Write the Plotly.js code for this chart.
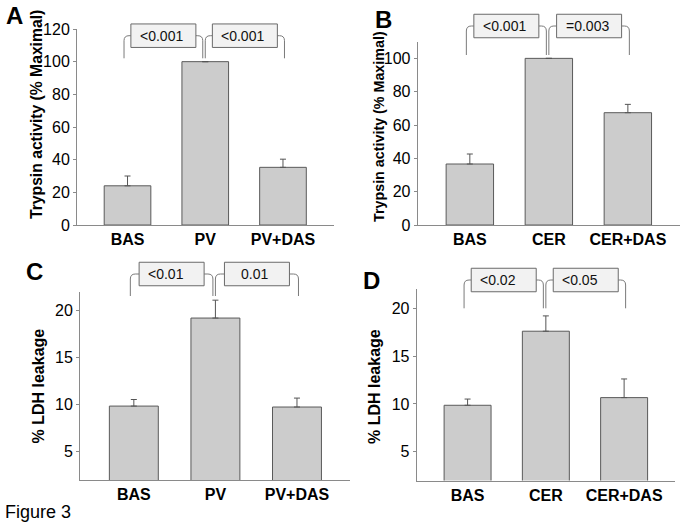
<!DOCTYPE html>
<html>
<head>
<meta charset="utf-8">
<script src="https://cdn.plot.ly/plotly-3.0.1.min.js"></script>
<style>html,body{margin:0;padding:0;background:#fff;}#chart{width:685px;height:528px;}</style>
</head>
<body>
<div id="chart"></div>
<script>
// ---- data ----
var catsPV = ['BAS', 'PV', 'PV+DAS'];
var catsCER = ['BAS', 'CER', 'CER+DAS'];
var trypsinPV = [24, 100, 35.3];
var trypsinPVErr = [6, 0, 5];
var trypsinCER = [36.6, 100, 67.4];
var trypsinCERErr = [6, 0, 5];
var ldhPV = [9.85, 19.2, 9.75];
var ldhPVErr = [0.7, 1.9, 0.95];
var ldhCER = [9.86, 17.6, 10.66];
var ldhCERErr = [0.65, 1.6, 1.95];
var pA = ['<0.001', '<0.001'];
var pB = ['<0.001', '=0.003'];
var pC = ['<0.01', '0.01'];
var pD = ['<0.02', '<0.05'];
var yTitleTrypsin = 'Trypsin activity (% Maximal)';
var yTitleLDH = '% LDH leakage';

// ---- layout helpers (pixel geometry) ----
var W = 685, H = 528;
function PX(p) { return p / W; }
function PY(p) { return 1 - p / H; }

var panels = [
  {key: '', letter: 'A', cats: catsPV, vals: trypsinPV, err: trypsinPVErr, p: pA, ytitle: yTitleTrypsin,
   xd: [77, 333.5], yd: [29, 225], xr: [-0.65, 2.65], yr: [0, 120], tickvals: [0, 20, 40, 60, 80, 100, 120],
   boxY: 35.7, bottom: 58.3, letterPos: [14.5, 15.5], titleX: 37, titleY: 115, titleSize: 15.7, pads: [7, 7]},
  {key: '2', letter: 'B', cats: catsCER, vals: trypsinCER, err: trypsinCERErr, p: pB, ytitle: yTitleTrypsin,
   xd: [417.7, 680], yd: [41.7, 225], xr: [-0.66, 2.66], yr: [0, 110], tickvals: [0, 20, 40, 60, 80, 100],
   boxY: 26, bottom: 55, letterPos: [383, 20], titleX: 379, titleY: 126, titleSize: 14.3, pads: [7, 7]},
  {key: '3', letter: 'C', cats: catsPV, vals: ldhPV, err: ldhPVErr, p: pC, ytitle: yTitleLDH,
   xd: [80, 350], yd: [291.7, 480], xr: [-0.66, 2.65], yr: [2, 22], tickvals: [5, 10, 15, 20],
   boxY: 274, bottom: 296, letterPos: [34, 271], titleX: 38, titleY: 386.5, titleSize: 16, pads: [7, 15]},
  {key: '4', letter: 'D', cats: catsCER, vals: ldhCER, err: ldhCERErr, p: pD, ytitle: yTitleLDH,
   xd: [416.7, 675], yd: [289.1, 480.5], xr: [-0.65, 2.65], yr: [2, 22], tickvals: [5, 10, 15, 20],
   boxY: 280, bottom: 308.3, letterPos: [371, 280], titleX: 374, titleY: 386, titleSize: 16, pads: [7, 7]}
];

function catPx(pn, i) {
  return pn.xd[0] + (i - pn.xr[0]) / (pn.xr[1] - pn.xr[0]) * (pn.xd[1] - pn.xd[0]);
}

var FONT = 'Liberation Sans, Arial, sans-serif';
var traces = [];
var layout = {
  width: W, height: H,
  margin: {l: 0, r: 0, t: 0, b: 0},
  paper_bgcolor: '#ffffff', plot_bgcolor: 'rgba(0,0,0,0)',
  showlegend: false,
  font: {family: FONT, color: '#000'},
  shapes: [], annotations: []
};

var lineCol = '#8a8a8a';
var brCol = '#7a7a7a';

panels.forEach(function (pn) {
  var xa = 'x' + pn.key, ya = 'y' + pn.key;
  traces.push({
    type: 'bar', x: pn.cats, y: pn.vals, xaxis: xa, yaxis: ya, width: 0.6,
    marker: {color: '#cccccc', line: {color: '#5a5a5a', width: 1}},
    error_y: {type: 'data', array: pn.err, arrayminus: pn.err.map(function () { return 0; }),
              symmetric: false, color: '#555555', thickness: 1, width: 3},
    hoverinfo: 'skip'
  });
  layout['xaxis' + pn.key] = {
    domain: [PX(pn.xd[0]), PX(pn.xd[1])], anchor: ya, type: 'category',
    range: pn.xr, showline: true, linecolor: lineCol, linewidth: 1, ticks: '',
    showgrid: false, zeroline: false, fixedrange: true,
    tickfont: {family: FONT, size: 16, weight: 'bold', color: '#000'}
  };
  layout['yaxis' + pn.key] = {
    domain: [PY(pn.yd[1]), PY(pn.yd[0])], anchor: xa, range: pn.yr,
    tickvals: pn.tickvals, showline: true, linecolor: lineCol, linewidth: 1,
    ticks: 'outside', ticklen: 3, tickcolor: lineCol, showgrid: false, zeroline: false,
    fixedrange: true, tickfont: {family: FONT, size: 16, color: '#000'}
  };
  // y title
  layout.annotations.push({
    xref: 'paper', yref: 'paper', x: PX(pn.titleX), y: PY(pn.titleY),
    xanchor: 'center', yanchor: 'middle', textangle: -90, showarrow: false,
    text: pn.ytitle, font: {family: FONT, size: pn.titleSize, weight: 'bold', color: '#000'}
  });
  // panel letter
  layout.annotations.push({
    xref: 'paper', yref: 'paper', x: PX(pn.letterPos[0]), y: PY(pn.letterPos[1]),
    xanchor: 'center', yanchor: 'middle', showarrow: false,
    text: pn.letter, font: {family: FONT, size: 24, weight: 'bold', color: '#000'}
  });
  // brackets + p-value boxes
  var c = [catPx(pn, 0), catPx(pn, 1), catPx(pn, 2)];
  var spans = [[c[0] - 3.5, c[1] - 2.5], [c[1] + 0, c[2] + 1.5]];
  spans.forEach(function (s, k) {
    var a = s[0], b = s[1], yh = pn.boxY, yb = pn.bottom, r = 5;
    var mid = (a + b) / 2, bw = 65, bh = 23.5;
    var bl = mid - bw / 2, brt = mid + bw / 2;
    var path = 'M ' + PX(a) + ' ' + PY(yb) + ' L ' + PX(a) + ' ' + PY(yh + r) +
      ' Q ' + PX(a) + ' ' + PY(yh) + ' ' + PX(a + r) + ' ' + PY(yh) + ' L ' + PX(bl) + ' ' + PY(yh) +
      ' M ' + PX(brt) + ' ' + PY(yh) + ' L ' + PX(b - r) + ' ' + PY(yh) +
      ' Q ' + PX(b) + ' ' + PY(yh) + ' ' + PX(b) + ' ' + PY(yh + r) + ' L ' + PX(b) + ' ' + PY(yb);
    layout.shapes.push({type: 'path', xref: 'paper', yref: 'paper', path: path,
      line: {color: brCol, width: 1}});
    layout.shapes.push({type: 'rect', xref: 'paper', yref: 'paper',
      x0: PX(bl), x1: PX(brt), y0: PY(yh + bh / 2), y1: PY(yh - bh / 2),
      fillcolor: '#f2f2f2', line: {color: '#6a6a6a', width: 1}});
    layout.annotations.push({
      xref: 'paper', yref: 'paper', x: PX(bl + pn.pads[k]), y: PY(yh),
      xanchor: 'left', yanchor: 'middle', showarrow: false,
      text: pn.p[k], font: {family: FONT, size: 14, color: '#111'}
    });
  });
});

layout.annotations.push({
  xref: 'paper', yref: 'paper', x: PX(3), y: PY(512), xanchor: 'left', yanchor: 'middle',
  showarrow: false, text: 'Figure 3', font: {family: FONT, size: 18, color: '#000'}
});

Plotly.newPlot('chart', traces, layout, {displayModeBar: false, staticPlot: true});
</script>
</body>
</html>
